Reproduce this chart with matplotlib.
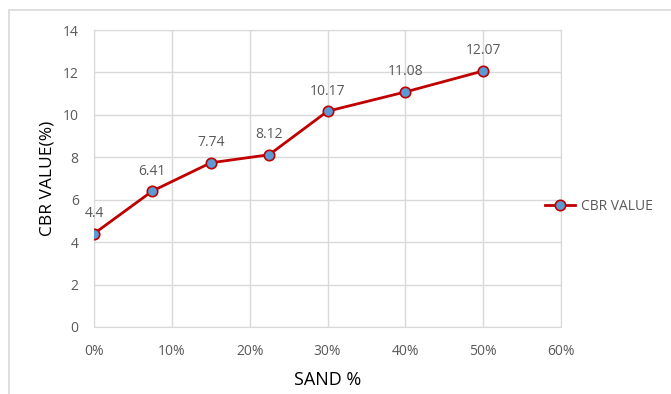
import matplotlib.pyplot as plt
from matplotlib.patches import Rectangle
from matplotlib.ticker import FuncFormatter

# du lieu doc tu hinh
sand_pct = [0, 7.5, 15, 22.5, 30, 40, 50]
cbr_value = [4.4, 6.41, 7.74, 8.12, 10.17, 11.08, 12.07]
cbr_labels = ["4.4", "6.41", "7.74", "8.12", "10.17", "11.08", "12.07"]

plt.rcParams['font.family'] = ['Open Sans', 'DejaVu Sans']

fig = plt.figure(figsize=(6.71, 3.94), dpi=100)

# khung vien xam cua bieu do
fig.patches.append(Rectangle((9 / 671, -0.1), 1.2, 1 - 10 / 394 + 0.1,
                             transform=fig.transFigure, fill=False,
                             edgecolor='#d9d9d9', linewidth=1.2))

ax = fig.add_axes([94 / 671, 1 - 327 / 394, (561 - 94) / 671, (327 - 30) / 394])

line, = ax.plot(sand_pct, cbr_value, color='#c00000', linewidth=2,
                marker='o', markersize=7.5, markerfacecolor='#5b9bd5',
                markeredgecolor='#c00000', markeredgewidth=1.2,
                label='CBR VALUE', zorder=3)

for xv, yv, txt in zip(sand_pct, cbr_value, cbr_labels):
    ax.annotate(txt, (xv, yv), xytext=(0, 9), textcoords='offset points',
                ha='center', va='bottom', fontsize=10, color='#595959')

ax.set_xlim(0, 60)
ax.set_ylim(0, 14)
ax.set_xticks(range(0, 61, 10))
ax.set_yticks(range(0, 15, 2))
ax.xaxis.set_major_formatter(FuncFormatter(lambda v, p: f"{int(v)}%"))

ax.grid(True, color='#d9d9d9', linewidth=1)
ax.set_axisbelow(True)
for s in ax.spines.values():
    s.set_color('#d9d9d9')
ax.tick_params(length=0, labelsize=10, labelcolor='#595959')
ax.tick_params(axis='x', pad=12)
ax.tick_params(axis='y', pad=11)

ax.set_xlabel("SAND %", fontsize=13, color='black', labelpad=9)
ax.set_ylabel("CBR VALUE(%)", fontsize=12.5, color='black', labelpad=5)

ax.legend(loc='center left', bbox_to_anchor=(0.965, 0.407), frameon=False,
          fontsize=10, labelcolor='#595959', handlelength=2.2,
          handletextpad=0.4, borderaxespad=0, borderpad=0)

plt.savefig("out.png", dpi=100)
